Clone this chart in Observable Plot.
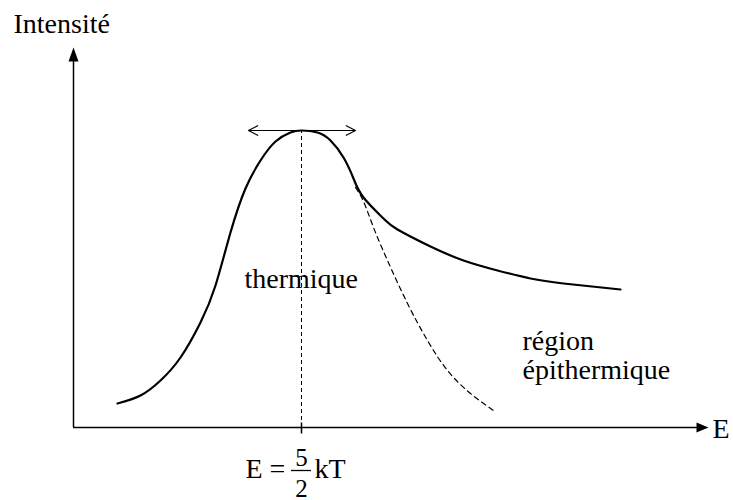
<!DOCTYPE html>
<html>
<head>
<meta charset="utf-8">
<script src="https://cdn.jsdelivr.net/npm/d3@7"></script>
<script src="https://cdn.jsdelivr.net/npm/@observablehq/plot@0.6"></script>
<style>
  html, body { margin: 0; padding: 0; background: white; }
</style>
</head>
<body>
<div id="chart"></div>
<script>
// Energy (arbitrary units, origin at the axes corner) and intensity
const solidE = [44, 67, 87, 107, 127, 142, 157, 172, 187, 202, 217, 228, 244, 257, 270, 280, 290, 310, 324, 357, 390, 424, 457, 490, 547];
const solidI = [24, 32, 47, 70, 105, 142, 195, 239, 267, 286, 295, 297, 295, 287, 270, 249, 230, 209, 198, 181, 167, 157, 149, 144, 138];

// Maxwellian continuation (dashed), thermal part only
const dashE = [282, 290, 300, 314, 334, 354, 374, 397, 420];
const dashI = [240, 226, 200, 167, 124, 87, 57, 34, 17];

// Peak and tangent arrow extents
const peakE = 228;
const peakI = 297;
const tangentE = [175, 282];

// Axis extents
const xAxisMax = 635;
const yAxisMax = 380;

// Labels
const labelTexts = ["Intensité", "thermique", "région", "épithermique", "E"];
const labelE = [-60, 171, 449, 449, 639];
const labelI = [395, 140, 78, 49, -10];

const formulaTexts = ["E = ", "kT"];
const formulaE = [172, 241];
const formulaI = [-50, -50];
const fracTop = "5";
const fracBottom = "2";
const fracTopI = -38;
const fracBottomI = -69;
const fracLineI = -43;
const fracHalfWidth = 10;

const serif = "'Liberation Serif', Tinos, 'Times New Roman', Times, 'Noto Serif', 'DejaVu Serif', serif";

// custom symbols (arrowheads + tick)
const headUp = { draw(ctx) { ctx.moveTo(0, 0); ctx.lineTo(5, 14); ctx.lineTo(-5, 14); ctx.closePath(); } };
const headRight = { draw(ctx) { ctx.moveTo(0, 0); ctx.lineTo(-12, -5); ctx.lineTo(-12, 5); ctx.closePath(); } };
const tickSym = { draw(ctx) { ctx.moveTo(0, -5); ctx.lineTo(0, 6); } };

const chart = Plot.plot({
  width: 733,
  height: 500,
  margin: 0,
  x: { domain: [-73, 660], axis: null },
  y: { domain: [-73, 427], axis: null },
  style: { background: "white", color: "black", fontFamily: serif },
  marks: [
    // axes
    Plot.ruleY([0], { x1: 0, x2: xAxisMax - 6, stroke: "black", strokeWidth: 1.5 }),
    Plot.ruleX([0], { y1: 0, y2: yAxisMax - 6, stroke: "black", strokeWidth: 1.5 }),
    Plot.dot([0], { x: [0], y: [yAxisMax], symbol: headUp, fill: "black", stroke: "none", r: 5 }),
    Plot.dot([0], { x: [xAxisMax], y: [0], symbol: headRight, fill: "black", stroke: "none", r: 5 }),
    Plot.dot([0], { x: [peakE], y: [0], symbol: tickSym, fill: "none", stroke: "black", strokeWidth: 1.5, r: 5 }),
    // vertical dashed line at peak
    Plot.ruleX([peakE], { y1: 0, y2: peakI, stroke: "black", strokeWidth: 1, strokeDasharray: "4,3" }),
    // dashed maxwellian tail
    Plot.line(dashE, { x: dashE, y: dashI, curve: "natural", stroke: "black", strokeWidth: 1.2, strokeDasharray: "5,4" }),
    // solid spectrum
    Plot.line(solidE, { x: solidE, y: solidI, curve: "natural", stroke: "black", strokeWidth: 2.2 }),
    // tangent double arrow
    Plot.arrow(tangentE, { x1: peakE, y1: peakI, x2: d => d, y2: peakI, stroke: "black", strokeWidth: 1.2, headLength: 13, headAngle: 55 }),
    // labels
    Plot.text(labelTexts, { x: labelE, y: labelI, text: d => d, textAnchor: "start", lineAnchor: "bottom", fontSize: 28, fontFamily: serif, fill: "black" }),
    // formula
    Plot.text(formulaTexts, { x: formulaE, y: formulaI, text: d => d, textAnchor: "start", lineAnchor: "bottom", fontSize: 28, fontFamily: serif, fill: "black" }),
    Plot.text([fracTop, fracBottom], { x: [peakE, peakE], y: [fracTopI, fracBottomI], text: d => d, textAnchor: "middle", lineAnchor: "bottom", fontSize: 25, fontFamily: serif, fill: "black" }),
    Plot.ruleY([fracLineI], { x1: peakE - fracHalfWidth, x2: peakE + fracHalfWidth, stroke: "black", strokeWidth: 1.3 })
  ]
});
// force the serif face on every text node (inline style + an in-SVG stylesheet)
const innerStyle = document.createElementNS("http://www.w3.org/2000/svg", "style");
innerStyle.textContent = `text, tspan { font-family: ${serif} !important; }`;
chart.insertBefore(innerStyle, chart.firstChild);
chart.querySelectorAll("text, tspan").forEach(t => {
  t.setAttribute("font-family", serif);
  t.style.setProperty("font-family", serif, "important");
});
document.getElementById("chart").appendChild(chart);
</script>
</body>
</html>
